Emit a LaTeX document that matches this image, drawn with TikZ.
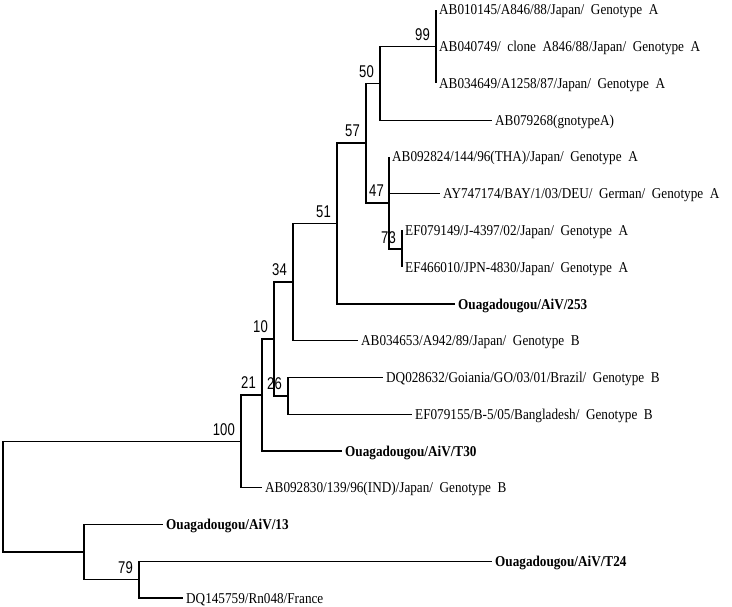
\documentclass[tikz,border=0pt]{standalone}
\usepackage{fontspec}
\setmainfont{Liberation Serif}
\newfontfamily\leaffont[FakeStretch=0.88]{Liberation Serif}
\newfontfamily\bootfont[FakeStretch=0.77]{Liberation Sans}

\begin{document}
\begin{tikzpicture}[x=1pt, y=-1pt,
  br/.style={line width=1.4pt},
  leaf/.style={anchor=west, inner sep=3pt, text height=10pt, text depth=0pt,
    font=\leaffont\fontsize{15}{15}\selectfont},
  ouag/.style={leaf, font=\leaffont\bfseries\fontsize{15}{15}\selectfont},
  boot/.style={anchor=south east, inner sep=0pt,
    font=\bootfont\fontsize{17}{17}\selectfont}]

  \useasboundingbox (0,0) rectangle (732,607);

  % internal nodes
  \coordinate (root) at (3,496.7);
  \coordinate (n100) at (241,441.4);
  \coordinate (n21) at (262,395);
  \coordinate (n10) at (274,339);
  \coordinate (n34) at (293,282.2);
  \coordinate (n51) at (337,223.6);
  \coordinate (n57) at (366,143.2);
  \coordinate (n50) at (380,83.5);
  \coordinate (n99) at (436,46.75);
  \coordinate (n47) at (389,202.9);
  \coordinate (n73) at (402,248.9);
  \coordinate (n26) at (288,395.9);
  \coordinate (nb) at (84,552);
  \coordinate (n79) at (139,579.6);

  % taxa
  \node[leaf] (t00) at (436,10)     {AB010145/A846/88/Japan/~~Genotype~~A};
  \node[leaf] (t01) at (436,46.75)  {AB040749/~~clone~~A846/88/Japan/~~Genotype~~A};
  \node[leaf] (t02) at (436,83.5)   {AB034649/A1258/87/Japan/~~Genotype~~A};
  \node[leaf] (t03) at (492,120.25) {AB079268(gnotypeA)};
  \node[leaf] (t04) at (389,157)    {AB092824/144/96(THA)/Japan/~~Genotype~~A};
  \node[leaf] (t05) at (440,193.75) {AY747174/BAY/1/03/DEU/~~German/~~Genotype~~A};
  \node[leaf] (t06) at (402,230.5)  {EF079149/J-4397/02/Japan/~~Genotype~~A};
  \node[leaf] (t07) at (402,267.25) {EF466010/JPN-4830/Japan/~~Genotype~~A};
  \node[ouag] (t08) at (455,304)    {Ouagadougou/AiV/253};
  \node[leaf] (t09) at (358,340.75) {AB034653/A942/89/Japan/~~Genotype~~B};
  \node[leaf] (t10) at (383,377.5)  {DQ028632/Goiania/GO/03/01/Brazil/~~Genotype~~B};
  \node[leaf] (t11) at (412,414.25) {EF079155/B-5/05/Bangladesh/~~Genotype~~B};
  \node[ouag] (t12) at (342,451)    {Ouagadougou/AiV/T30};
  \node[leaf] (t13) at (262,487.75) {AB092830/139/96(IND)/Japan/~~Genotype~~B};
  \node[ouag] (t14) at (163,524.5)  {Ouagadougou/AiV/13};
  \node[ouag] (t15) at (492,561.25) {Ouagadougou/AiV/T24};
  \node[leaf] (t16) at (183,598)    {DQ145759/Rn048/France};

  % branches
  \draw[br] (root) |- (n100);
  \draw[br] (root) |- (nb);
  \draw[br] (n100) |- (n21);
  \draw[br] (n100) |- (t13);
  \draw[br] (n21) |- (n10);
  \draw[br] (n21) |- (t12);
  \draw[br] (n10) |- (n34);
  \draw[br] (n10) |- (n26);
  \draw[br] (n26) |- (t10);
  \draw[br] (n26) |- (t11);
  \draw[br] (n34) |- (n51);
  \draw[br] (n34) |- (t09);
  \draw[br] (n51) |- (n57);
  \draw[br] (n51) |- (t08);
  \draw[br] (n57) |- (n50);
  \draw[br] (n57) |- (n47);
  \draw[br] (n50) |- (n99);
  \draw[br] (n50) |- (t03);
  \draw[br] (n99) |- (t00);
  \draw[br] (n99) |- (t01);
  \draw[br] (n99) |- (t02);
  \draw[br] (n47) |- (t04);
  \draw[br] (n47) |- (t05);
  \draw[br] (n47) |- (n73);
  \draw[br] (n73) |- (t06);
  \draw[br] (n73) |- (t07);
  \draw[br] (nb) |- (t14);
  \draw[br] (nb) |- (n79);
  \draw[br] (n79) |- (t15);
  \draw[br] (n79) |- (t16);

  % bootstrap values
  \node[boot] (b99) at ([xshift=-6pt,yshift=6pt]n99) {99};
  \node[boot] (b50) at ([xshift=-6pt,yshift=6pt]n50) {50};
  \node[boot] (b57) at ([xshift=-6pt,yshift=6pt]n57) {57};
  \node[boot] (b47) at ([xshift=-5pt,yshift=6pt]n47) {47};
  \node[boot] (b73) at ([xshift=-6pt,yshift=5pt]n73) {73};
  \node[boot] (b51) at ([xshift=-6pt,yshift=6pt]n51) {51};
  \node[boot] (b34) at ([xshift=-6pt,yshift=6pt]n34) {34};
  \node[boot] (b10) at ([xshift=-6pt,yshift=6pt]n10) {10};
  \node[boot] (b26) at ([xshift=-6pt,yshift=6pt]n26) {26};
  \node[boot] (b21) at ([xshift=-6pt,yshift=6pt]n21) {21};
  \node[boot] (b100) at ([xshift=-6pt,yshift=6pt]n100) {100};
  \node[boot] (b79) at ([xshift=-6pt,yshift=6pt]n79) {79};
\end{tikzpicture}
\end{document}
